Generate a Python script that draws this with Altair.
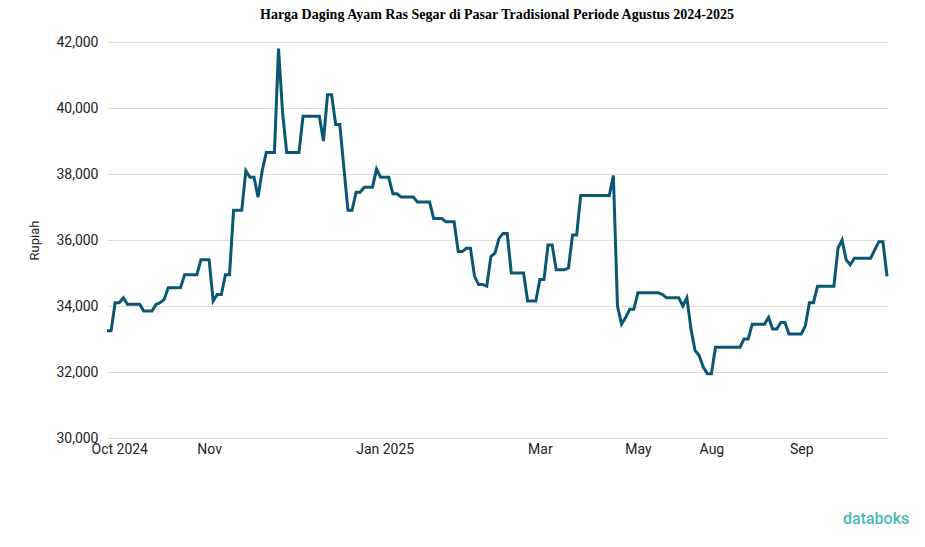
import altair as alt
import pandas as pd

harga = [
    33250, 33250, 34100, 34100, 34250, 34050, 34050, 34050, 34050, 33850,
    33850, 33850, 34050, 34100, 34200, 34550, 34550, 34550, 34550, 34950,
    34950, 34950, 34950, 35400, 35400, 35400, 34150, 34350, 34350, 34950,
    34950, 36900, 36900, 36900, 38100, 37900, 37900, 37300, 38100, 38650,
    38650, 38650, 41800, 39850, 38650, 38650, 38650, 38650, 39750, 39750,
    39750, 39750, 39750, 39000, 40400, 40400, 39500, 39500, 38200, 36900,
    36900, 37450, 37450, 37600, 37600, 37600, 38150, 37900, 37900, 37900,
    37400, 37400, 37300, 37300, 37300, 37300, 37150, 37150, 37150, 37150,
    36650, 36650, 36650, 36550, 36550, 36550, 35650, 35650, 35750, 35750,
    34900, 34650, 34650, 34600, 35500, 35600, 36050, 36200, 36200, 35000,
    35000, 35000, 35000, 34150, 34150, 34150, 34800, 34800, 35850, 35850,
    35100, 35100, 35100, 35150, 36150, 36150, 37350, 37350, 37350, 37350,
    37350, 37350, 37350, 37350, 37950, 34000, 33450, 33650, 33900, 33900,
    34400, 34400, 34400, 34400, 34400, 34400, 34350, 34250, 34250, 34250,
    34250, 34000, 34250, 33300, 32650, 32500, 32150, 31950, 31950, 32750,
    32750, 32750, 32750, 32750, 32750, 32750, 33000, 33000, 33450, 33450,
    33450, 33450, 33650, 33300, 33300, 33500, 33500, 33150, 33150, 33150,
    33150, 33400, 34100, 34100, 34600, 34600, 34600, 34600, 34600, 35750,
    36000, 35400, 35250, 35450, 35450, 35450, 35450, 35450, 35700, 35950,
    35950, 34900,
]
tick_index = [3, 25, 68, 106, 130, 148, 170]
tick_label = ["Oct 2024", "Nov", "Jan 2025", "Mar", "May", "Aug", "Sep"]
y_ticks = [30000, 32000, 34000, 36000, 38000, 40000, 42000]

df = pd.DataFrame({"idx": list(range(len(harga))), "harga": harga})

label_expr = "''"
for i, t in zip(reversed(tick_index), reversed(tick_label)):
    label_expr = f"datum.value == {i} ? '{t}' : ({label_expr})"

line = alt.Chart(df).mark_line(color="#0b5670", strokeWidth=3, strokeJoin="miter").encode(
    x=alt.X(
        "idx:Q",
        scale=alt.Scale(domain=[0, len(harga) - 1], nice=False, zero=False),
        axis=alt.Axis(
            values=tick_index, labelExpr=label_expr, grid=False, domain=False,
            ticks=False, title=None, labelPadding=4, labelFont="Roboto",
            labelFontSize=14, labelColor="#222222",
        ),
    ),
    y=alt.Y(
        "harga:Q",
        scale=alt.Scale(domain=[30000, 42000], nice=False, zero=False),
        axis=alt.Axis(
            values=y_ticks, format=",.0f", title="Rupiah", grid=True,
            gridColor="#dddddd", domain=False, ticks=False, labelPadding=9,
            labelFont="Roboto", labelFontSize=14, labelColor="#222222",
            titleFont="Roboto", titleFontSize=13, titleFontWeight="normal",
            titleColor="#222222", titlePadding=14,
        ),
    ),
)

brand = alt.Chart(pd.DataFrame({"t": ["databoks"]})).mark_text(
    font="Roboto", fontSize=16, fontWeight=500, color="#4db8b0", align="left", baseline="middle"
).encode(x=alt.value(736), y=alt.value(477), text="t:N")

chart = alt.layer(line, brand).properties(
    width=780,
    height=396,
    padding={"left": 20, "top": 0, "right": 5, "bottom": 5},
    title=alt.TitleParams(
        "Harga Daging Ayam Ras Segar di Pasar Tradisional Periode Agustus 2024-2025",
        font="Liberation Serif", fontSize=14, fontWeight="bold", color="#000000",
        anchor="middle", offset=13,
    ),
).configure_view(stroke=None)

chart.save("out.html", embed_options={"renderer": "svg", "actions": False})
